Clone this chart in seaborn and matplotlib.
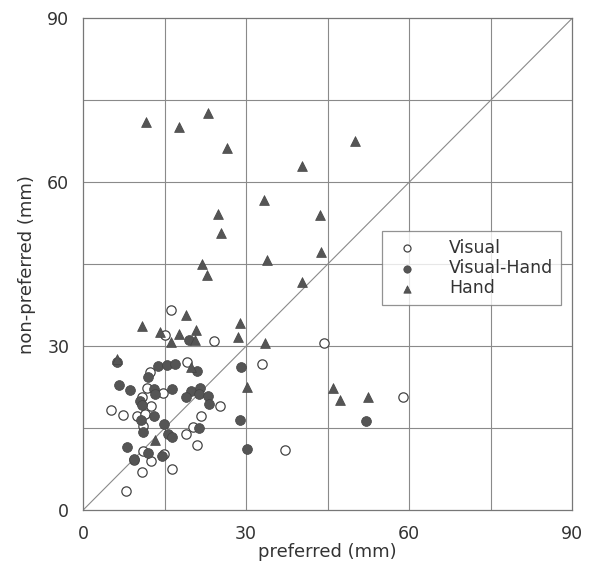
import matplotlib
matplotlib.use('Agg')
import matplotlib.pyplot as plt
import seaborn as sns

# Visual (open circles)
visual_x = [16.1, 15.1, 24.0, 19.2, 12.3, 11.7, 14.7, 10.8, 12.5, 25.2, 5.2, 7.3, 9.9, 11.4,
            21.7, 11.1, 20.2, 19.0, 21.0, 11.1, 12.5, 14.9, 9.4, 10.9, 16.4, 7.9,
            33.0, 44.4, 58.8, 37.2]
visual_y = [36.6, 32.1, 30.9, 27.1, 25.3, 22.3, 21.5, 20.7, 19.0, 19.0, 18.4, 17.4, 17.2, 17.6,
            17.3, 15.4, 15.2, 13.9, 11.9, 10.8, 9.0, 10.2, 9.1, 6.9, 7.5, 3.4,
            26.7, 30.5, 20.7, 11.0]

# Visual-Hand (filled circles)
vh_x = [19.4, 6.3, 13.7, 15.5, 16.9, 21.0, 12.0, 29.1, 6.6, 8.7, 13.1, 13.3, 16.4, 19.9,
        21.5, 21.3, 19.0, 22.9, 10.4, 10.8, 23.2, 13.1, 10.7, 11.1, 14.9, 15.7, 16.3,
        21.4, 28.9, 8.0, 12.0, 14.5, 9.4, 30.2, 52.1]
vh_y = [31.1, 27.0, 26.3, 26.5, 26.8, 25.4, 24.3, 26.2, 22.9, 22.0, 22.1, 21.3, 22.1, 21.8,
        22.4, 21.3, 20.6, 20.9, 19.9, 19.3, 19.4, 17.2, 16.5, 14.3, 15.7, 13.9, 13.4,
        15.1, 16.5, 11.6, 10.5, 9.9, 9.3, 11.2, 16.3]

# Hand (triangles)
hand_x = [18.9, 10.9, 14.2, 17.7, 20.7, 20.6, 16.1, 28.9, 28.5, 6.3, 19.9, 30.1, 13.3,
          11.5, 22.9, 17.6, 26.4, 24.9, 25.4, 21.9, 22.8,
          50.1, 40.3, 33.2, 43.5, 43.8, 33.9, 40.3, 33.4, 46.0, 47.2, 52.5]
hand_y = [35.7, 33.7, 32.6, 32.2, 33.0, 31.2, 30.7, 34.3, 31.7, 27.6, 26.1, 22.6, 12.8,
          71.0, 72.7, 70.0, 66.2, 54.2, 50.7, 45.1, 43.0,
          67.6, 62.9, 56.7, 53.9, 47.2, 45.7, 41.7, 30.5, 22.4, 20.1, 20.6]

ticks = [0, 30, 60, 90]
grid_lines = [15, 30, 45, 60, 75]

sns.set_style('white')
plt.rcParams['font.family'] = ['DejaVu Sans']

fig = plt.figure(figsize=(5.98, 5.68), dpi=100)
ax = fig.add_axes([0.139, 0.102, 0.818, 0.866])

ink = '#444444'
for g in grid_lines:
    ax.axvline(g, color='#8a8a8a', lw=0.8, zorder=0)
    ax.axhline(g, color='#8a8a8a', lw=0.8, zorder=0)
ax.plot([0, 90], [0, 90], color='#8a8a8a', lw=0.8, zorder=0)

sns.scatterplot(x=visual_x, y=visual_y, ax=ax, marker='o', s=45,
                facecolor='white', edgecolor=ink, linewidth=0.9, label='Visual', zorder=3)
sns.scatterplot(x=vh_x, y=vh_y, ax=ax, marker='o', s=50,
                color='#555555', edgecolor=ink, linewidth=0.5, label='Visual-Hand', zorder=3)
sns.scatterplot(x=hand_x, y=hand_y, ax=ax, marker='^', s=50,
                color='#555555', edgecolor=ink, linewidth=0.5, label='Hand', zorder=4)

ax.set_xlim(0, 90)
ax.set_ylim(0, 90)
ax.set_xticks(ticks)
ax.set_yticks(ticks)
ax.tick_params(length=0, labelsize=12.5, labelcolor='#333333')
ax.tick_params(axis='x', pad=11)
ax.tick_params(axis='y', pad=10)
for sp in ax.spines.values():
    sp.set_color('#777777')
    sp.set_linewidth(0.9)

ax.set_xlabel('preferred (mm)', fontsize=13, color='#333333', labelpad=0)
ax.set_ylabel('non-preferred (mm)', fontsize=13, color='#333333', labelpad=8)

leg = ax.legend(loc='upper right', bbox_to_anchor=(0.977, 0.567), fontsize=12.5,
                frameon=True, fancybox=False, borderpad=0.45, labelspacing=0.12,
                handletextpad=1.4, borderaxespad=0, markerscale=0.75)
leg.get_frame().set_edgecolor('#777777')
leg.get_frame().set_linewidth(0.9)
for t in leg.get_texts():
    t.set_color('#333333')

fig.savefig('out.png', dpi=100)
